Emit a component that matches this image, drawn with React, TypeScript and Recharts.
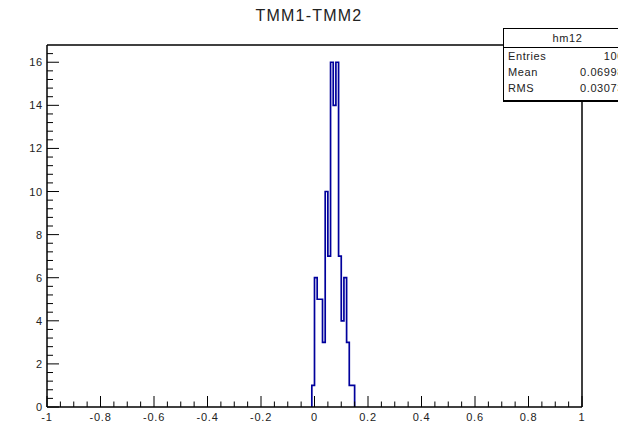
import React from 'react';
import {
  ComposedChart,
  Line,
  XAxis,
  YAxis,
  ReferenceLine,
} from 'recharts';

// histogram hm12: lower bin edges and counts
const binLowEdges = [-0.01, 0, 0.01, 0.02, 0.03, 0.04, 0.05, 0.06, 0.07, 0.08, 0.09, 0.1, 0.11, 0.12, 0.13, 0.14];
const binCounts = [1, 6, 5, 5, 3, 10, 7, 16, 14, 16, 7, 4, 6, 3, 1, 1];
const binWidth = 0.01;

const xMajorTicks = [-1, -0.8, -0.6, -0.4, -0.2, 0, 0.2, 0.4, 0.6, 0.8, 1];
const yMajorTicks = [0, 2, 4, 6, 8, 10, 12, 14, 16];
const xMinorStep = 0.05;
const yMinorStep = 0.4;
const yMax = 16.8;

const title = 'TMM1-TMM2';
const statsName = 'hm12';
const statsLabels = ['Entries', 'Mean', 'RMS'];
const statsValues = ['100', '0.06998', '0.03073'];

const FONT = '"Liberation Sans", Arial, Helvetica, sans-serif';
const HIST_COLOR = '#00009c';

// step outline points (stepAfter)
const histPoints = [
  { x: binLowEdges[0], y: 0 },
  ...binLowEdges.map((x, i) => ({ x, y: binCounts[i] })),
  { x: binLowEdges[binLowEdges.length - 1] + binWidth, y: 0 },
];

const xTicks: number[] = [];
for (let i = 0; i <= Math.round(2 / xMinorStep); i++) xTicks.push(-1 + i * xMinorStep);
const yTicks: number[] = [];
for (let i = 0; i * yMinorStep < yMax - 1e-6; i++) yTicks.push(i * yMinorStep);

const findMajor = (list: number[], v: number) => list.find((m) => Math.abs(m - v) < 1e-6);

function XTick(props: any) {
  const { x, y, payload } = props;
  const major = findMajor(xMajorTicks, payload.value);
  const isMajor = major !== undefined;
  return (
    <g>
      <line x1={x} x2={x} y1={y} y2={y - (isMajor ? 11 : 5.5)} stroke="#000" strokeWidth={1} />
      {isMajor && (
        <text x={x} y={y + 14} textAnchor="middle" fontSize={11} fill="#222" fontFamily={FONT} letterSpacing={0.8}>
          {String(major)}
        </text>
      )}
    </g>
  );
}

function YTick(props: any) {
  const { x, y, payload } = props;
  const major = findMajor(yMajorTicks, payload.value);
  const isMajor = major !== undefined;
  return (
    <g>
      <line x1={x} x2={x + (isMajor ? 12 : 6)} y1={y} y2={y} stroke="#000" strokeWidth={1} />
      {isMajor && (
        <text x={x - 4} y={y + 4} textAnchor="end" fontSize={11} fill="#222" fontFamily={FONT} letterSpacing={0.8}>
          {String(major)}
        </text>
      )}
    </g>
  );
}

export default function App() {
  return (
    <div
      style={{
        position: 'absolute',
        left: 0,
        top: 0,
        width: 618,
        height: 427,
        overflow: 'hidden',
        background: '#fff',
        fontFamily: FONT,
      }}
    >
      <div
        style={{
          position: 'absolute',
          left: 0,
          top: 7,
          width: 618,
          textAlign: 'center',
          fontSize: 16,
          letterSpacing: 1.2,
          color: '#222',
        }}
      >
        {title}
      </div>
      <ComposedChart
        width={618}
        height={427}
        data={histPoints}
        margin={{ top: 45, right: 36, left: 0, bottom: 0 }}
      >
        <XAxis
          dataKey="x"
          type="number"
          domain={[-1, 1]}
          ticks={xTicks}
          interval={0}
          tick={<XTick />}
          tickLine={false}
          tickSize={0}
          tickMargin={0}
          axisLine={{ stroke: '#000', strokeWidth: 1.5 }}
          height={20}
          allowDataOverflow
        />
        <YAxis
          type="number"
          domain={[0, yMax]}
          ticks={yTicks}
          interval={0}
          tick={<YTick />}
          tickLine={false}
          tickSize={0}
          tickMargin={0}
          axisLine={{ stroke: '#000', strokeWidth: 1.5 }}
          width={47}
          allowDataOverflow
        />
        <ReferenceLine y={yMax} stroke="#000" strokeWidth={1.5} />
        <ReferenceLine x={1} stroke="#000" strokeWidth={1.5} />
        <Line
          type="stepAfter"
          dataKey="y"
          stroke={HIST_COLOR}
          strokeWidth={1.7}
          dot={false}
          activeDot={false}
          isAnimationActive={false}
        />
      </ComposedChart>
      <div
        style={{
          position: 'absolute',
          left: 503,
          top: 28,
          width: 129,
          height: 74,
          boxSizing: 'border-box',
          border: '1px solid #000',
          borderBottomWidth: 2,
          background: '#fff',
          fontSize: 11,
          color: '#222',
          letterSpacing: 0.6,
        }}
      >
        <div
          style={{
            height: 18,
            lineHeight: '18px',
            textAlign: 'center',
            borderBottom: '1px solid #000',
          }}
        >
          {statsName}
        </div>
        {statsLabels.map((label, i) => (
          <div
            key={label}
            style={{
              display: 'flex',
              justifyContent: 'space-between',
              height: 16,
              lineHeight: '16px',
              padding: '0 7px 0 4px',
            }}
          >
            <span>{label}</span>
            <span>{statsValues[i]}</span>
          </div>
        ))}
      </div>
    </div>
  );
}
